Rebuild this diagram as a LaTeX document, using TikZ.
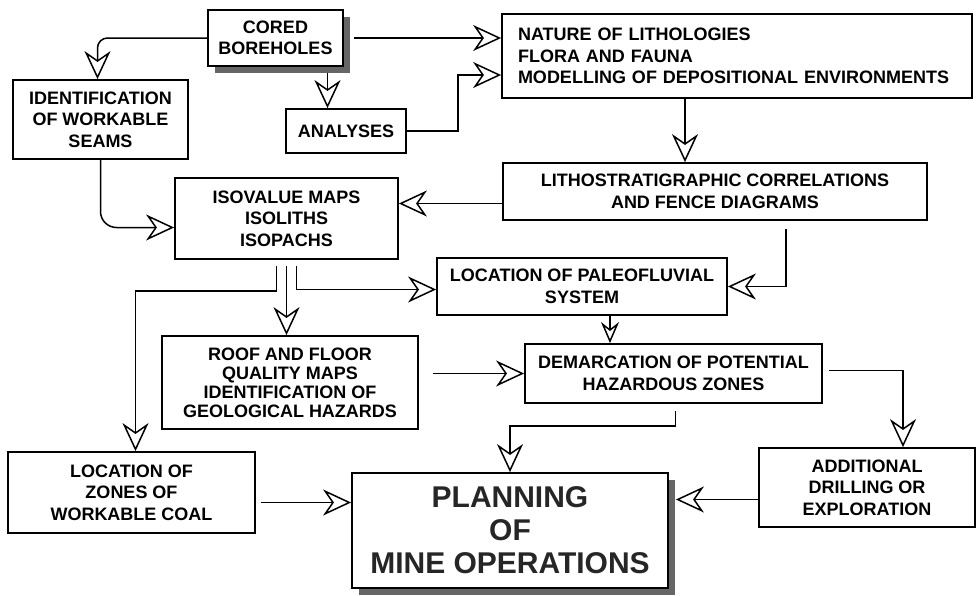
\documentclass[tikz,border=0pt]{standalone}
\usepackage{fontspec}
\setmainfont{Liberation Sans}
\usetikzlibrary{arrows.meta, positioning, calc, shadows}

\begin{document}
\begin{tikzpicture}[x=1pt, y=-1pt,
    box/.style={draw, line width=1.8pt, fill=white, align=center, inner sep=0pt,
      font=\bfseries\fontsize{18}{21.5}\selectfont},
    shade/.style={drop shadow={shadow xshift=7pt, shadow yshift=-7pt, fill=black!60, opacity=1}},
    flow/.style={line width=1.5pt, -{Stealth[fill=white, length=28pt, width=26pt, inset=9pt]}},
    smallflow/.style={line width=1.5pt, -{Stealth[fill=white, length=21pt, width=18pt, inset=7pt]}}]
  \useasboundingbox (0,0) rectangle (978,595);

  \node[box, shade, minimum width=135pt, minimum height=56pt] (cored) at (275.5,38) {CORED\\BOREHOLES};
  \node[box, minimum width=175pt, minimum height=79pt] (seams) at (100.5,119.5) {IDENTIFICATION\\OF WORKABLE\\SEAMS};
  \node[box, minimum width=120pt, minimum height=44pt] (analyses) at (346,131) {ANALYSES};
  \node[box, minimum width=470pt, minimum height=84pt, align=left, text width=438pt] (nature) at (737,56)
    {NATURE OF LITHOLOGIES\\FLORA AND FAUNA\\MODELLING OF DEPOSITIONAL ENVIRONMENTS};
  \node[box, minimum width=424pt, minimum height=57pt] (litho) at (715,191.5) {LITHOSTRATIGRAPHIC CORRELATIONS\\AND FENCE DIAGRAMS};
  \node[box, minimum width=223pt, minimum height=81pt] (iso) at (286.5,218.5) {ISOVALUE MAPS\\ISOLITHS\\ISOPACHS};
  \node[box, minimum width=290pt, minimum height=57pt] (paleo) at (582,286.5) {LOCATION OF PALEOFLUVIAL\\SYSTEM};
  \node[box, minimum width=256pt, minimum height=93pt, font=\bfseries\fontsize{18}{19}\selectfont] (roof) at (290,382.5)
    {ROOF AND FLOOR\\QUALITY MAPS\\IDENTIFICATION OF\\GEOLOGICAL HAZARDS};
  \node[box, minimum width=297pt, minimum height=59pt] (demarc) at (673.5,373.5) {DEMARCATION OF POTENTIAL\\HAZARDOUS ZONES};
  \node[box, minimum width=247pt, minimum height=81pt] (zones) at (131.5,492.5) {LOCATION OF\\ZONES OF\\WORKABLE COAL};
  \node[box, shade, minimum width=316pt, minimum height=115pt, text=black!85,
    font=\bfseries\fontsize{30}{33}\selectfont] (plan) at (510,530.5) {PLANNING\\OF\\MINE OPERATIONS};
  \node[box, minimum width=216pt, minimum height=79pt] (addl) at (867,487.5) {ADDITIONAL\\DRILLING OR\\EXPLORATION};

  \draw[flow, rounded corners=10pt] (cored.west) -| ([xshift=-3pt]seams.north);
  \draw[flow, shorten <=10pt] (cored.east) -- (cored.east -| nature.west);
  \draw[flow, shorten <=6pt] ([xshift=52pt]cored.south) -- ([xshift=52pt]cored.south |- analyses.north);
  \draw[flow] (analyses.east) -- ++(51,0) |- ([yshift=-19pt]nature.west);
  \draw[flow] ([xshift=-52pt]nature.south) -- ([xshift=-52pt]nature.south |- litho.north);
  \draw[flow] ([yshift=-12pt]litho.west) -- ([yshift=-12pt]litho.west -| iso.east);
  \draw[flow, rounded corners=16pt] (seams.south) |- ([yshift=-9pt]iso.west);
  \draw[flow, shorten <=8pt] ([xshift=71pt]litho.south) |- (paleo.east);
  \draw[flow, shorten <=6pt] ([xshift=-10pt]iso.south) -- ++(0,31) -| ([xshift=4pt]zones.north);
  \draw[flow, shorten <=6pt] (iso.south) -- (iso.south |- roof.north);
  \draw[flow, shorten <=6pt] ([xshift=10pt]iso.south) |- ([yshift=-3pt]paleo.west);
  \draw[smallflow] ([xshift=28pt]paleo.south) -- ([xshift=28pt]paleo.south |- demarc.north);
  \draw[flow, shorten <=14pt] (roof.east |- demarc.west) -- (demarc.west);
  \draw[flow, shorten <=6pt] ([yshift=3pt]demarc.east) -| ([xshift=36pt]addl.north);
  \draw[flow, shorten <=7pt] ([xshift=2pt]demarc.south) -- ++(0,22) -| (plan.north);
  \draw[flow, shorten <=5pt] ([yshift=-10pt]zones.east) -- ([yshift=-10pt]zones.east -| plan.west);
  \draw[flow] ([yshift=-12pt]addl.west) -- ([yshift=-12pt, xshift=7pt]addl.west -| plan.east);
\end{tikzpicture}
\end{document}
